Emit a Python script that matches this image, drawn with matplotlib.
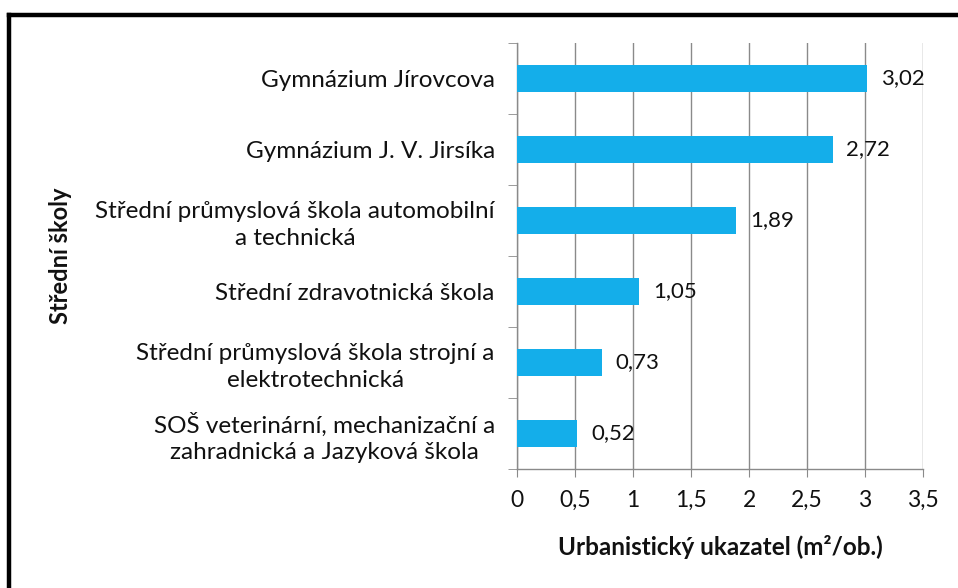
import matplotlib.pyplot as plt
import numpy as np
from matplotlib.lines import Line2D

plt.rcParams["font.family"] = ["Lato", "DejaVu Sans"]

schools = [
    "Gymnázium Jírovcova",
    "Gymnázium J. V. Jirsíka",
    "Střední průmyslová škola automobilní\na technická",
    "Střední zdravotnická škola",
    "Střední průmyslová škola strojní a\nelektrotechnická",
    "SOŠ veterinární, mechanizační a\nzahradnická a Jazyková škola",
]
values = [3.02, 2.72, 1.89, 1.05, 0.73, 0.52]
x_ticks = [0, 0.5, 1, 1.5, 2, 2.5, 3, 3.5]
x_tick_labels = ["0", "0,5", "1", "1,5", "2", "2,5", "3", "3,5"]

BAR_COLOR = "#14AEEA"
GRID_COLOR = "#8a8a8a"
TEXT_COLOR = "#111111"

fig = plt.figure(figsize=(9.58, 5.88), dpi=100)
ax = fig.add_axes([0.5397, 0.2024, 0.4238, 0.7245])

y = np.arange(len(schools))
ax.barh(y, values, height=0.37, color=BAR_COLOR, zorder=3)
ax.set_ylim(len(schools) - 0.5, -0.5)
ax.set_xlim(0, 3.5)

for yi, v in zip(y, values):
    ax.annotate(f"{v:.2f}".replace(".", ","), (v, yi), xytext=(10, 0),
                textcoords="offset points", va="center", ha="left",
                fontsize=16, color=TEXT_COLOR, zorder=4)

ax.set_yticks(y)
ax.set_yticklabels(schools, fontsize=17.5, multialignment="center",
                   color=TEXT_COLOR, linespacing=1.3)
ax.set_yticks(np.arange(len(schools) + 1) - 0.5, minor=True)
ax.tick_params(axis="y", which="major", length=0, pad=16)
ax.tick_params(axis="y", which="minor", length=6.5, color=GRID_COLOR,
               direction="out")

ax.set_xticks(x_ticks)
ax.set_xticklabels(x_tick_labels, fontsize=16.5, color=TEXT_COLOR)
ax.tick_params(axis="x", length=6, color=GRID_COLOR, pad=9)
ax.grid(axis="x", color=GRID_COLOR, linewidth=1, zorder=0)

for side in ("top", "right"):
    ax.spines[side].set_visible(False)
for side in ("left", "bottom"):
    ax.spines[side].set_color(GRID_COLOR)
    ax.spines[side].set_linewidth(1)

ax.set_xlabel("Urbanistický ukazatel (m²/ob.)", fontsize=17.5,
              fontweight="bold", color=TEXT_COLOR)
ax.xaxis.set_label_coords(0.5, -0.155)
ax.set_ylabel("Střední školy", fontsize=17, fontweight="bold",
              color=TEXT_COLOR)
ax.yaxis.set_label_coords(-1.096, 0.5)

# chart frame (only top and left edges visible in the crop)
fig.add_artist(Line2D([9 / 958, 1.0], [1 - 15 / 588, 1 - 15 / 588],
                      transform=fig.transFigure, color="black", linewidth=3.2))
fig.add_artist(Line2D([9 / 958, 9 / 958], [0.0, 1 - 15 / 588],
                      transform=fig.transFigure, color="black", linewidth=3.2))

fig.savefig("out.png", dpi=100)
